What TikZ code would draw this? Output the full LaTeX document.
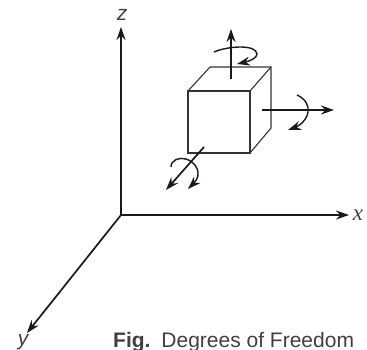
\documentclass[tikz,border=0pt]{standalone}
\usepackage{fontspec}
\setmainfont{Liberation Sans}
\newfontfamily\xfont{Liberation Serif}
\usetikzlibrary{arrows.meta}
\tikzset{
 axis/.style={draw=black!90,line width=1.7pt,-{Stealth[length=13pt,width=9pt]}},
 motion/.style={draw=black!90,line width=1.7pt,-{Stealth[length=13pt,width=9pt]}},
 turn/.style={draw=black!90,line width=1.4pt,-{Stealth[length=13pt,width=9pt]}},
 edge/.style={draw=black!80,line width=1.1pt},
 axislabel/.style={font=\itshape\fontsize{21}{21}\selectfont,text=black!75,inner sep=0pt}
}
\begin{document}
\begin{tikzpicture}[x=1pt,y=-1pt]
 \useasboundingbox (0,0) rectangle (367,350);
 % axes
 \coordinate (o) at (121,215);
 \node[axislabel] (zlab) at (122,15) {z};
 \node[axislabel,font=\xfont\itshape\fontsize{23}{23}\selectfont] (xlab) at (358,215) {x};
 \node[axislabel] (ylab) at (23,342) {y};
 \coordinate (ztip) at (121,27);
 \coordinate (xtip) at (349,215);
 \coordinate (ytip) at (27,333);
 \draw[axis] (o)--(ztip);
 \draw[axis] (o)--(xtip);
 \draw[axis] (o)--(ytip);
 % cube
 \coordinate (fa) at (188,91);
 \coordinate (fb) at (250,91);
 \coordinate (fc) at (250,153);
 \coordinate (fd) at (188,153);
 \coordinate (ba) at (210,67);
 \coordinate (bb) at (271,67);
 \coordinate (bc) at (271,128);
 \draw[edge] (fa)--(fb)--(fc)--(fd)--cycle;
 \draw[edge] (fa)--(ba)--(bb)--(bc)--(fc);
 \draw[edge] (fb)--(bb);
 % straight arrows
 \coordinate (up0) at (231,79);
 \coordinate (up1) at (231,29);
 \coordinate (ri0) at (262,110);
 \coordinate (ri1) at (334,110);
 \coordinate (fr0) at (204,147);
 \coordinate (fr1) at (166,190);
 \draw[motion] (up0)--(up1);
 \draw[motion] (ri0)--(ri1);
 \draw[motion] (fr0)--(fr1);
 % turning arrows
 \coordinate (ua) at (214,52);
 \coordinate (ub) at (237,64);
 \coordinate (ra) at (297,95);
 \coordinate (rb) at (288,130);
 \coordinate (fa1) at (171,167);
 \coordinate (fb1) at (188,189);
 \draw[turn] (ua) .. controls (228,46) and (256,44) .. (257,54) .. controls (257,58) and (250,61) .. (ub);
 \draw[turn] (ra) .. controls (306,99) and (309,106) .. (308,112) .. controls (307,120) and (299,126) .. (rb);
 \draw[turn] (fa1) .. controls (171,160) and (179,157) .. (186,159) .. controls (196,162) and (203,174) .. (fb1);
 % caption
 \node[anchor=base west,inner sep=0pt,text=black!75,font=\fontsize{21}{21}\selectfont] (cap) at (113,347)
   {\textbf{Fig.}\hspace{.52em}Degrees of Freedom};
\end{tikzpicture}
\end{document}
